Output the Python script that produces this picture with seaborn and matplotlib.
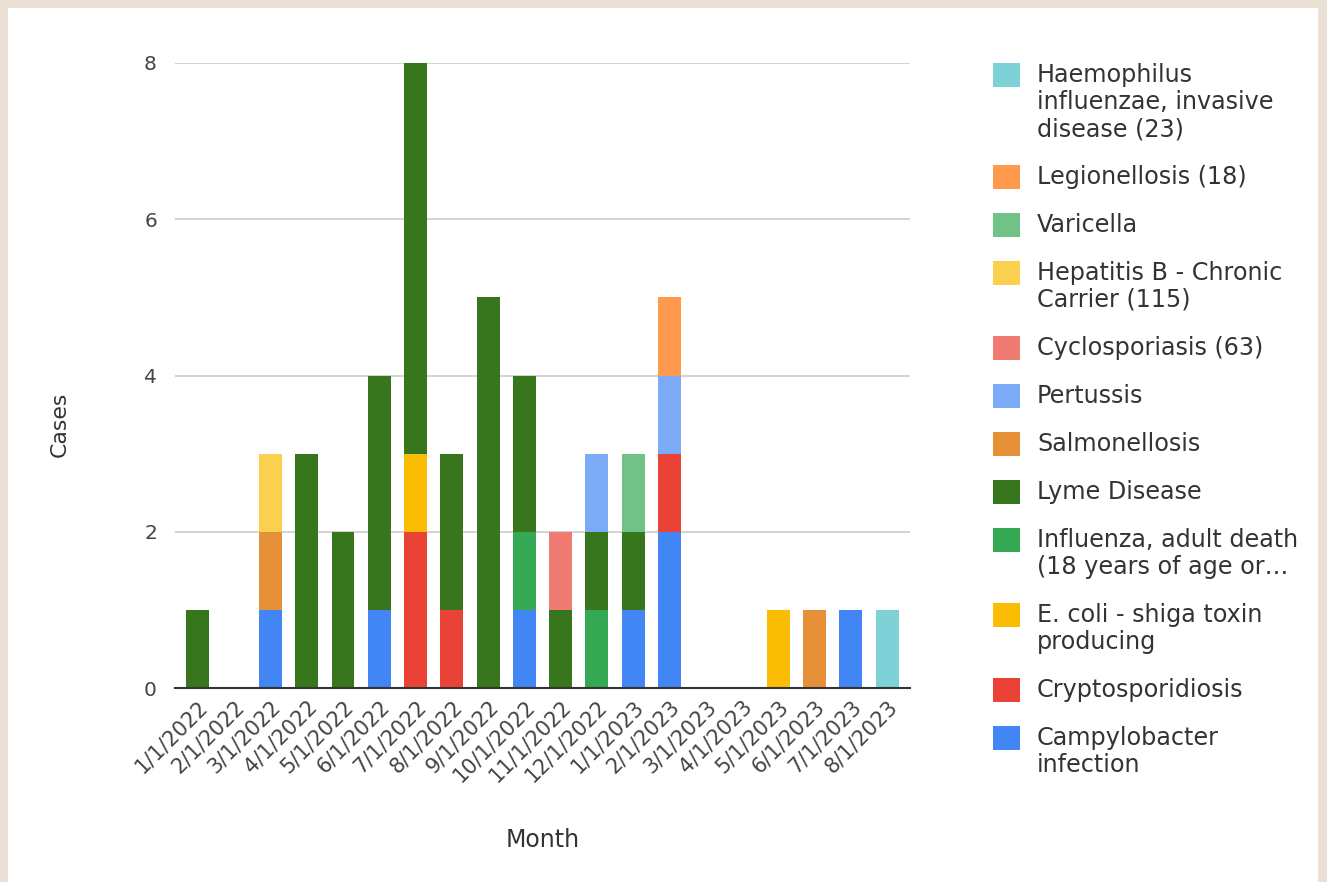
import pandas as pd
import matplotlib.pyplot as plt
import matplotlib.transforms as mtransforms
from matplotlib.patches import Rectangle
import seaborn as sns

# Months on the x axis
months = ["1/1/2022", "2/1/2022", "3/1/2022", "4/1/2022", "5/1/2022",
          "6/1/2022", "7/1/2022", "8/1/2022", "9/1/2022", "10/1/2022",
          "11/1/2022", "12/1/2022", "1/1/2023", "2/1/2023", "3/1/2023",
          "4/1/2023", "5/1/2023", "6/1/2023", "7/1/2023", "8/1/2023"]

# Cases per month for each disease
haemophilus = [0, 0, 0, 0, 0, 0, 0, 0, 0, 0, 0, 0, 0, 0, 0, 0, 0, 0, 0, 1]
legionellosis = [0, 0, 0, 0, 0, 0, 0, 0, 0, 0, 0, 0, 0, 1, 0, 0, 0, 0, 0, 0]
varicella = [0, 0, 0, 0, 0, 0, 0, 0, 0, 0, 0, 0, 1, 0, 0, 0, 0, 0, 0, 0]
hepatitis_b = [0, 0, 1, 0, 0, 0, 0, 0, 0, 0, 0, 0, 0, 0, 0, 0, 0, 0, 0, 0]
cyclosporiasis = [0, 0, 0, 0, 0, 0, 0, 0, 0, 0, 1, 0, 0, 0, 0, 0, 0, 0, 0, 0]
pertussis = [0, 0, 0, 0, 0, 0, 0, 0, 0, 0, 0, 1, 0, 1, 0, 0, 0, 0, 0, 0]
salmonellosis = [0, 0, 1, 0, 0, 0, 0, 0, 0, 0, 0, 0, 0, 0, 0, 0, 0, 1, 0, 0]
lyme = [1, 0, 0, 3, 2, 3, 5, 2, 5, 2, 1, 1, 1, 0, 0, 0, 0, 0, 0, 0]
influenza = [0, 0, 0, 0, 0, 0, 0, 0, 0, 1, 0, 1, 0, 0, 0, 0, 0, 0, 0, 0]
ecoli = [0, 0, 0, 0, 0, 0, 1, 0, 0, 0, 0, 0, 0, 0, 0, 0, 1, 0, 0, 0]
cryptosporidiosis = [0, 0, 0, 0, 0, 0, 2, 1, 0, 0, 0, 0, 0, 1, 0, 0, 0, 0, 0, 0]
campylobacter = [0, 0, 1, 0, 0, 1, 0, 0, 0, 1, 0, 0, 1, 2, 0, 0, 0, 0, 1, 0]

# Legend order (top of the stack first)
labels = ["Haemophilus\ninfluenzae, invasive\ndisease (23)",
          "Legionellosis (18)",
          "Varicella",
          "Hepatitis B - Chronic\nCarrier (115)",
          "Cyclosporiasis (63)",
          "Pertussis",
          "Salmonellosis",
          "Lyme Disease",
          "Influenza, adult death\n(18 years of age or\u2026",
          "E. coli - shiga toxin\nproducing",
          "Cryptosporidiosis",
          "Campylobacter\ninfection"]
series = [haemophilus, legionellosis, varicella, hepatitis_b, cyclosporiasis,
          pertussis, salmonellosis, lyme, influenza, ecoli,
          cryptosporidiosis, campylobacter]
colors = ["#7ED1D7", "#FF994D", "#71C287", "#FCD04F", "#F07B72", "#7BAAF7",
          "#E69138", "#38761D", "#34A853", "#FBBC04", "#EA4335", "#4285F4"]

# long table for seaborn
rows = []
for lab, vals in zip(labels, series):
    for m, v in zip(months, vals):
        rows.append({"Month": m, "Disease": lab, "Cases": v})
df = pd.DataFrame(rows)
df["Month"] = pd.Categorical(df["Month"], categories=months, ordered=True)

W, H = 1327, 882
fig = plt.figure(figsize=(W / 100, H / 100), dpi=100, facecolor="#eae0d6")
fig.add_artist(Rectangle((8 / W, 0), 1310 / W, 1 - 8 / H,
                         transform=fig.transFigure, facecolor="white",
                         edgecolor="none", zorder=-1))
ax = fig.add_axes([175 / W, 1 - 688 / H, 735 / W, 625 / H])

# stacked bars: first hue level ends up on top
sns.histplot(data=df, x="Month", weights="Cases", hue="Disease",
             hue_order=labels, palette=colors, multiple="stack",
             discrete=True, shrink=0.63, alpha=1, linewidth=0,
             legend=False, ax=ax, zorder=3)

ax.set_xlim(-0.63, len(months) - 1 + 0.63)
ax.set_ylim(0, 8)
ax.set_yticks([0, 2, 4, 6, 8])
ax.set_xticks(range(len(months)))
ax.set_xticklabels(months, rotation=45, ha="right", rotation_mode="anchor",
                   fontsize=15, color="#444444")
offset = mtransforms.ScaledTranslation(10 / 72, 0, fig.dpi_scale_trans)
for t in ax.get_xticklabels():
    t.set_transform(t.get_transform() + offset)
for t in ax.get_yticklabels():
    t.set_fontsize(14.5)
    t.set_color("#444444")
ax.tick_params(axis="both", length=0)
ax.tick_params(axis="y", pad=13)
ax.tick_params(axis="x", pad=6)
ax.grid(axis="y", color="#cccccc", linewidth=1.2, zorder=0)
ax.grid(axis="x", visible=False)
ax.set_axisbelow(True)
for s in ["top", "right", "left"]:
    ax.spines[s].set_visible(False)
ax.spines["bottom"].set_color("#333333")
ax.spines["bottom"].set_linewidth(1.5)
ax.spines["bottom"].set_zorder(4)

ax.set_xlabel("Month", fontsize=17, color="#333333")
ax.set_ylabel("Cases", fontsize=15.8, color="#333333")
ax.xaxis.set_label_coords(0.5, -0.243)
ax.yaxis.set_label_coords(-0.157, 0.422)
ax.xaxis.label.set_va("center")
ax.yaxis.label.set_va("center")

# legend on the right, squares aligned with the first line of each entry
y = 75
for lab, c in zip(labels, colors):
    lines = lab.split("\n")
    fig.add_artist(Rectangle((993 / W, 1 - (y + 12) / H), 27 / W, 24 / H,
                             transform=fig.transFigure, facecolor=c,
                             edgecolor="none"))
    for i, line in enumerate(lines):
        fig.text(1037 / W, 1 - (y + i * 27) / H, line, ha="left",
                 va="center", fontsize=17.2, color="#333333")
    y += len(lines) * 27 + 21

fig.savefig("out.png", dpi=100, facecolor=fig.get_facecolor())
